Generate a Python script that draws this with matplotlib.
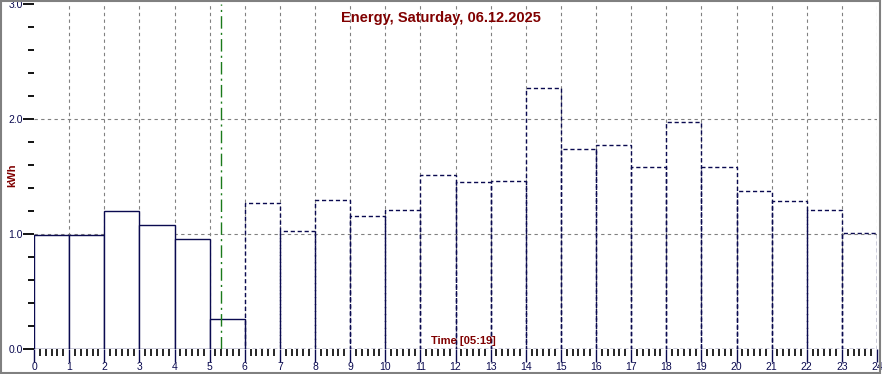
import numpy as np
import matplotlib.pyplot as plt
from matplotlib.ticker import MultipleLocator

# hourly energy, kWh
hours = np.arange(24)
energy = [0.99, 0.99, 1.20, 1.08, 0.96, 0.26, 1.27, 1.03, 1.30, 1.16, 1.21, 1.51,
          1.45, 1.46, 2.27, 1.74, 1.77, 1.58, 1.97, 1.58, 1.37, 1.29, 1.21, 1.01]
measured_hours = 6          # hours 0..5 are measured, rest is forecast
now_hour = 5 + 19 / 60      # 05:19
title = "Energy, Saturday, 06.12.2025"
time_label = "Time [05:19]"

navy = "#0a0a50"
darkred = "#800000"

plt.rcParams['font.family'] = ['Liberation Sans', 'DejaVu Sans']

fig = plt.figure(figsize=(8.82, 3.74), dpi=100)
fig.patch.set_facecolor("white")
ax = fig.add_axes([34 / 882, 1 - 349 / 374, 843 / 882, 345 / 374])

# grid
for h in range(1, 25):
    ax.axvline(h, color="#808080", lw=0.8, ls=(0, (3, 3)), zorder=1)
for v in (1.0, 2.0):
    ax.axhline(v, color="#808080", lw=0.8, ls=(0, (3, 3)), zorder=1)

# bars
for h, e in zip(hours, energy):
    if h < measured_hours:
        ax.bar(h, e, width=1, align="edge", facecolor="white", edgecolor=navy,
               lw=1.0, zorder=2)
    else:
        ax.bar(h, e, width=1, align="edge", facecolor="none", edgecolor=navy,
               lw=1.0, ls=(0, (3, 2)), zorder=3)

# current time marker
ax.axvline(now_hour, color="#1a7a1a", lw=1.0, ls=(0, (9, 3, 1.5, 3)), zorder=4)

ax.set_xlim(0, 24)
ax.set_ylim(0, 3.0)
ax.set_xticks(range(25))
ax.xaxis.set_minor_locator(MultipleLocator(1 / 6))
ax.set_yticks([0, 1, 2, 3])
ax.set_yticklabels(["0.0", "1.0", "2.0", "3.0"])
ax.yaxis.set_minor_locator(MultipleLocator(0.2))

ax.tick_params(axis="x", which="major", length=9, width=1, color=navy,
               labelsize=7.5, labelcolor=navy, pad=0)
ax.tick_params(axis="x", which="minor", length=5, width=1.2, color="black")
ax.tick_params(axis="y", which="major", length=8, width=1.3, color="black",
               labelsize=7.5, labelcolor=navy, pad=0)
ax.tick_params(axis="y", which="minor", length=4, width=1.3, color="black")

for s in ax.spines.values():
    s.set_visible(False)

fig.text(0.5, 1 - 18 / 374, title, ha="center", va="center",
         color=darkred, fontsize=10.5, fontweight="bold")
ax.text(12.21, 0.03, time_label, ha="center", va="bottom", color=darkred,
        fontsize=8, fontweight="bold")
fig.text(12 / 882, 1 - 175 / 374, "kWh", rotation=90, ha="center", va="center",
         color=darkred, fontsize=8, fontweight="bold")

# outer frame
fig.add_artist(plt.Rectangle((0.001, 0.003), 0.997, 0.994, transform=fig.transFigure,
                             fill=False, edgecolor="#808080", lw=1.5))

fig.savefig("out.png", dpi=100)
